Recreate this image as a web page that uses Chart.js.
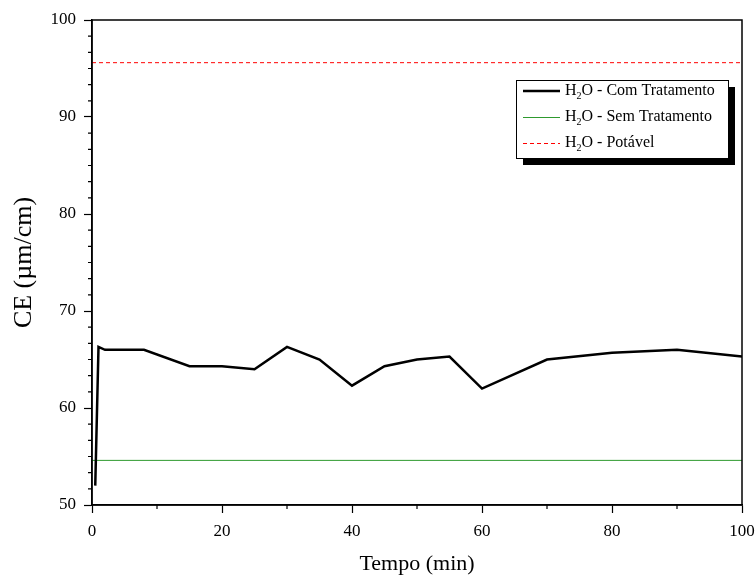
<!DOCTYPE html>
<html>
<head>
<meta charset="utf-8">
<script src="https://cdn.jsdelivr.net/npm/chart.js@4/dist/chart.umd.min.js"></script>
<style>
  html, body { margin: 0; padding: 0; background: #fff; }
  #wrap { width: 755px; height: 575px; }
</style>
</head>
<body>
<div id="wrap"><canvas id="c" width="755" height="575"></canvas></div>
<script>
// readings
const tempo = [0.5, 1, 2, 8, 15, 20, 25, 30, 35, 40, 45, 50, 55, 60, 70, 80, 90, 100];
const ceComTratamento = [52, 66.3, 66, 66, 64.3, 64.3, 64, 66.3, 65, 62.3, 64.3, 65, 65.3, 62, 65, 65.7, 66, 65.3];
const tempoRef = [0, 100];
const ceSemTratamento = [54.6, 54.6];
const cePotavel = [95.6, 95.6];
const xTicks = [0, 20, 40, 60, 80, 100];
const yTicks = [50, 60, 70, 80, 90, 100];

const legendLabels = ['Com Tratamento', 'Sem Tratamento', 'Potável'];
const serif = '"Liberation Serif", "Times New Roman", serif';

const pts = (xs, ys) => xs.map((x, i) => ({ x: x, y: ys[i] }));

// frame, minor ticks and the boxed legend with its shadow
const decor = {
  id: 'decor',
  beforeDraw(chart) {
    const c = chart.ctx;
    c.save();
    c.fillStyle = '#fff';
    c.fillRect(0, 0, chart.width, chart.height);
    c.restore();
  },
  afterDraw(chart) {
    const c = chart.ctx;
    const a = chart.chartArea;
    const xs = chart.scales.x, ys = chart.scales.y;
    c.save();
    c.strokeStyle = '#000';
    c.lineWidth = 1.5;
    c.strokeRect(a.left, a.top, a.right - a.left, a.bottom - a.top);

    // minor ticks
    c.lineWidth = 1.2;
    c.beginPath();
    for (let i = 0; i < xTicks.length - 1; i++) {
      const v = (xTicks[i] + xTicks[i + 1]) / 2;
      const px = xs.getPixelForValue(v);
      c.moveTo(px, a.bottom); c.lineTo(px, a.bottom + 4);
    }
    for (let i = 0; i < yTicks.length - 1; i++) {
      for (let k = 1; k < 6; k++) {
        const v = yTicks[i] + (yTicks[i + 1] - yTicks[i]) * k / 6;
        const py = ys.getPixelForValue(v);
        c.moveTo(a.left - 4, py); c.lineTo(a.left, py);
      }
    }
    c.stroke();

    // legend
    const bx = 516, by = 80, bw = 212, bh = 78;
    c.fillStyle = '#000';
    c.fillRect(bx + 7, by + 7, bw, bh);
    c.fillStyle = '#fff';
    c.fillRect(bx, by, bw, bh);
    c.strokeStyle = '#000';
    c.lineWidth = 1;
    c.strokeRect(bx + 0.5, by + 0.5, bw, bh);

    const ds = chart.data.datasets;
    const rows = [91, 117, 143];
    rows.forEach((ry, i) => {
      const d = ds[i];
      const ly = d.borderWidth > 1.5 ? ry : ry + 0.5;
      c.beginPath();
      c.strokeStyle = d.borderColor;
      c.lineWidth = d.borderWidth;
      c.setLineDash(d.borderDash || []);
      c.moveTo(523, ly); c.lineTo(560, ly);
      c.stroke();
      c.setLineDash([]);

      c.fillStyle = '#000';
      c.textBaseline = 'middle';
      c.textAlign = 'left';
      c.font = '16px ' + serif;
      let tx = 565;
      c.fillText('H', tx, ry);
      tx += c.measureText('H').width;
      c.font = '10px ' + serif;
      c.fillText('2', tx, ry + 5);
      tx += c.measureText('2').width;
      c.font = '16px ' + serif;
      c.fillText('O - ' + legendLabels[i], tx, ry);
    });
    c.restore();
  }
};

new Chart(document.getElementById('c'), {
  type: 'line',
  data: {
    datasets: [{
      label: 'H2O - ' + legendLabels[0],
      data: pts(tempo, ceComTratamento),
      borderColor: '#000',
      borderWidth: 2.5,
      pointRadius: 0,
      tension: 0,
      fill: false
    }, {
      label: 'H2O - ' + legendLabels[1],
      data: pts(tempoRef, ceSemTratamento),
      borderColor: '#2e9a2e',
      borderWidth: 1,
      pointRadius: 0,
      fill: false
    }, {
      label: 'H2O - ' + legendLabels[2],
      data: pts(tempoRef, cePotavel),
      borderColor: '#ff0000',
      borderWidth: 1,
      borderDash: [4, 3],
      pointRadius: 0,
      fill: false
    }]
  },
  options: {
    responsive: false,
    animation: false,
    layout: { padding: { top: 20, right: 13, left: 0, bottom: 0 } },
    plugins: { legend: { display: false }, tooltip: { enabled: false } },
    scales: {
      x: {
        type: 'linear',
        min: 0, max: 100,
        afterFit: s => { s.height = 70; s.paddingLeft = 0; s.paddingRight = 0; },
        afterBuildTicks: s => { s.ticks = xTicks.map(v => ({ value: v })); },
        border: { display: true, color: '#000', width: 1.5 },
        grid: { drawOnChartArea: false, tickLength: 8, tickColor: '#000', tickWidth: 1.2 },
        ticks: { color: '#000', padding: 8, maxRotation: 0, font: { family: serif, size: 17 } },
        title: {
          display: true, text: 'Tempo (min)', color: '#000',
          padding: { top: 0, bottom: 0 },
          font: { family: serif, size: 22, lineHeight: 1 }
        }
      },
      y: {
        min: 50, max: 100,
        afterFit: s => { s.width = 92; s.paddingTop = 0; s.paddingBottom = 0; },
        afterBuildTicks: s => { s.ticks = yTicks.map(v => ({ value: v })); },
        border: { display: true, color: '#000', width: 1.5 },
        grid: { drawOnChartArea: false, tickLength: 8, tickColor: '#000', tickWidth: 1.2 },
        ticks: { color: '#000', padding: 8, font: { family: serif, size: 17 } },
        title: {
          display: true, text: 'CE (µm/cm)', color: '#000',
          padding: { top: 11, bottom: 0 },
          font: { family: serif, size: 26, lineHeight: 1 }
        }
      }
    }
  },
  plugins: [decor]
});
</script>
</body>
</html>
